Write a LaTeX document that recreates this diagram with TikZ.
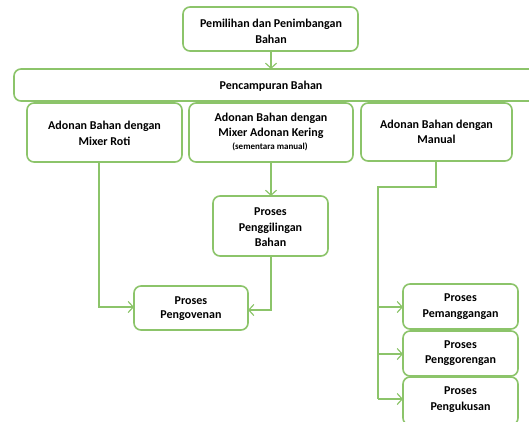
\documentclass[tikz,border=0pt]{standalone}
\usepackage{fontspec}
\setmainfont{Carlito}
\usetikzlibrary{arrows.meta}
\definecolor{gline}{HTML}{8CC46A}
\tikzset{
  box/.style={draw=gline, line width=1.6pt, rounded corners=7pt, fill=white},
  lbl/.style={font=\bfseries\fontsize{12}{16}\selectfont, align=center, text=black},
  conn/.style={draw=gline, line width=1.4pt, -{Straight Barb[length=5pt,width=11pt,line width=1.2pt]}},
  line/.style={draw=gline, line width=1.4pt}
}
\begin{document}
\begin{tikzpicture}[x=1pt,y=-1pt]
\useasboundingbox (0,0) rectangle (529,421);
\clip (0,0) rectangle (529,421);
% boxes
\draw[box] (183,7) rectangle (358,51);
\node[lbl] (t) at (271,31) {Pemilihan dan Penimbangan\\Bahan};
\coordinate (tb) at (271,51);
\draw[box] (14,69) rectangle (540,101);
\node[lbl] (mix) at (271,86) {Pencampuran Bahan};
\coordinate (mixt) at (271,69);

\draw[box] (27,103) rectangle (182,162);
\node[lbl] (a) at (104.5,133) {Adonan Bahan dengan\\Mixer Roti};
\coordinate (ab) at (99,162);

\draw[box] (189,103) rectangle (353,162);
\node[lbl, font=\bfseries\fontsize{12}{15}\selectfont] (b) at (271,125.5) {Adonan Bahan dengan\\Mixer Adonan Kering};
\node[font=\bfseries\fontsize{9}{10}\selectfont] (bs) at (270,147) {(sementara manual)};
\coordinate (bb) at (271,162);

\draw[box] (361,103) rectangle (512,161);
\node[lbl, font=\bfseries\fontsize{12}{14.5}\selectfont] (c) at (436.5,132) {Adonan Bahan dengan\\Manual};
\coordinate (cb) at (436,161);

\draw[box] (213,196) rectangle (328,256);
\node[lbl, font=\bfseries\fontsize{12}{15.5}\selectfont] (g) at (270.5,227.5) {Proses\\Penggilingan\\Bahan};
\coordinate (gt) at (271,196);
\coordinate (gb) at (271,256);

\draw[box] (134,286) rectangle (248,330);
\node[lbl, font=\bfseries\fontsize{12}{14}\selectfont] (o) at (191,309) {Proses\\Pengovenan};
\coordinate (ol) at (134,307);
\coordinate (or) at (248,310);

\draw[box] (403,284) rectangle (518,329);
\node[lbl, font=\bfseries\fontsize{12}{16}\selectfont] (p1) at (460.5,307) {Proses\\Pemanggangan};
\coordinate (p1l) at (403,307);
\draw[box] (403,331) rectangle (518,376);
\node[lbl, font=\bfseries\fontsize{12}{15}\selectfont] (p2) at (460.5,353.5) {Proses\\Penggorengan};
\coordinate (p2l) at (403,354);
\draw[box] (403,377) rectangle (518,425);
\node[lbl, font=\bfseries\fontsize{12}{16}\selectfont] (p3) at (460.5,400) {Proses\\Pengukusan};
\coordinate (p3l) at (403,399);

% connectors
\draw[conn] (tb) -- (mixt);
\draw[conn] (ab) |- (ol);
\draw[conn] (bb) -- (gt);
\draw[conn] (gb) |- (or);
\coordinate (cj) at (378,187);
\draw[line] (cb) |- (cj) -- (378,399);
\draw[conn] (378,307) -- (p1l);
\draw[conn] (378,354) -- (p2l);
\draw[conn] (378,399) -- (p3l);
\end{tikzpicture}
\end{document}
